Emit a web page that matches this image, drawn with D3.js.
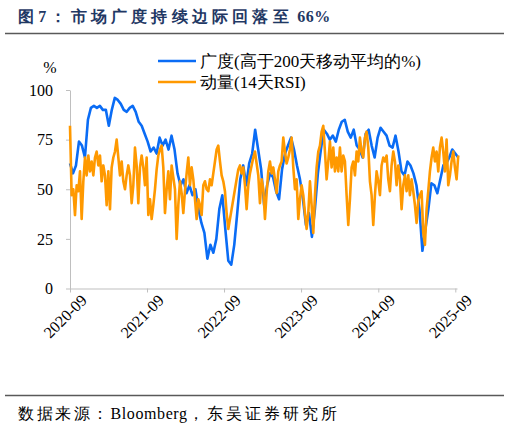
<!DOCTYPE html>
<html>
<head>
<meta charset="utf-8">
<script src="https://cdn.jsdelivr.net/npm/d3@7"></script>
<style>
  body { margin: 0; background: #fff; }
</style>
</head>
<body>
<script>
// data (two series, evenly spaced in time)
var startDate = new Date(2020, 8, 1);
var endDate = new Date(2025, 8, 15);

var breadth = [63,58,62,74,72,66,85,91,92,91,92,90,90,82,90,96,95,93,90,89,
  91,92,89,84,82,78,74,69,71,68,76,72,75,70,77,70,58,52,55,48,
  52,47,50,40,33,28,15,22,18,25,40,47,30,14,12,22,38,55,62,52,
  63,68,80,70,60,42,52,58,56,49,45,60,68,72,76,70,62,55,45,32,
  38,26,40,58,70,80,78,75,77,74,80,84,85,79,76,80,72,70,66,78,
  80,72,66,76,81,79,77,72,71,77,69,59,57,64,62,58,52,40,19,30,
  40,53,52,48,55,62,63,66,70,68,66];

var momentum = [82,47,50,37,52,49,59,35,54,66,57,67,59,64,57,66,69,62,67,54,
  62,57,42,59,40,61,66,69,75,66,57,64,54,50,57,62,57,43,52,71,
  62,43,61,67,61,52,66,37,
  45,35,42,50,60,67,70,72,61,38,50,59,45,62,56,50,25,42,54,48,
  38,49,58,66,52,61,55,45,35,45,42,37,52,54,50,49,55,52,58,64,
  70,72,64,57,54,49,38,30,
  35,40,45,50,55,60,62,58,61,52,40,52,58,62,66,69,63,57,43,55,
  50,35,48,59,64,58,61,55,48,59,62,64,76,69,63,66,70,76,61,50,
  55,35,45,52,47,38,30,38,
  54,42,28,47,61,69,72,79,82,69,55,64,74,61,71,59,66,59,71,59,
  67,64,47,32,45,61,64,57,69,64,76,69,66,76,79,71,54,47,32,47,
  59,54,47,62,66,64,67,55,
  49,62,69,64,52,62,55,40,52,57,49,57,47,55,49,42,33,44,47,49,
  28,22,40,49,59,66,71,64,69,59,71,76,69,59,75,52,57,64,69,61,
  55,67];

var yTicks = [0, 25, 50, 75, 100];
var xTickYears = [2020, 2021, 2022, 2023, 2024, 2025];

var seriesNames = ["广度(高于200天移动平均的%)", "动量(14天RSI)"];
var seriesColors = ["#0a6cf5", "#ff9900"];

var serif = "'Liberation Serif', 'Times New Roman', serif";

var width = 510, height = 429;

var svg = d3.select("body").append("svg")
    .attr("width", width)
    .attr("height", height)
    .style("font-family", serif);

// title and rules
var title = svg.append("text")
    .attr("x", 18).attr("y", 22)
    .attr("fill", "#1f3864")
    .attr("font-size", 16)
    .attr("font-weight", "bold")
    .style("font-family", serif);
title.append("tspan").attr("letter-spacing", 4.2).text("图7：市场广度持续边际回落至");
title.append("tspan").attr("letter-spacing", 0.5).text(" 66%");

svg.append("line")
    .attr("x1", 5).attr("x2", 504).attr("y1", 33.5).attr("y2", 33.5)
    .attr("stroke", "#595959").attr("stroke-width", 1.5);

svg.append("line")
    .attr("x1", 5).attr("x2", 504).attr("y1", 395.5).attr("y2", 395.5)
    .attr("stroke", "#595959").attr("stroke-width", 1.5);

var source = svg.append("text")
    .attr("x", 18).attr("y", 419)
    .attr("fill", "#000")
    .attr("font-size", 16)
    .style("font-family", serif);
source.append("tspan").attr("letter-spacing", 2.5).text("数据来源：");
source.append("tspan").attr("letter-spacing", 0.6).text("Bloomberg");
source.append("tspan").attr("letter-spacing", 3).text("，东吴证券研究所");

// scales
var x = d3.scaleTime()
    .domain([new Date(2020, 8, 1), new Date(2025, 8, 1)])
    .range([70, 455.3]);

var y = d3.scaleLinear()
    .domain([0, 100])
    .range([288.5, 90]);

function withDates(values) {
  var t = d3.scaleLinear().domain([0, values.length - 1])
      .range([startDate.getTime(), endDate.getTime()]);
  return values.map(function(v, i) { return {date: new Date(t(i)), value: v}; });
}

// axes
var xAxis = svg.append("g")
    .attr("transform", "translate(0,288.5)")
    .call(d3.axisBottom(x)
      .tickValues(xTickYears.map(function(yr) { return new Date(yr, 8, 1); }))
      .tickFormat(d3.timeFormat("%Y-%m"))
      .tickSize(4)
      .tickSizeOuter(0));

xAxis.attr("font-family", null);
xAxis.select(".domain").attr("stroke", "#bfbfbf").attr("d", "M70,0.5H457.5");
xAxis.selectAll(".tick line").attr("stroke", "#bfbfbf");
xAxis.selectAll(".tick text")
    .attr("font-size", 16)
    .attr("fill", "#000")
    .style("font-family", serif)
    .attr("text-anchor", "end")
    .attr("dx", "0.2em")
    .attr("dy", "0.9em")
    .attr("transform", "rotate(-45)");

var yAxis = svg.append("g")
    .attr("transform", "translate(70,0)")
    .call(d3.axisLeft(y)
      .tickValues(yTicks)
      .tickSize(4)
      .tickPadding(13)
      .tickSizeOuter(0));

yAxis.attr("font-family", null);
yAxis.select(".domain").attr("stroke", "#bfbfbf");
yAxis.selectAll(".tick line").attr("stroke", "#bfbfbf");
yAxis.selectAll(".tick text")
    .attr("font-size", 16)
    .attr("fill", "#000")
    .style("font-family", serif);

svg.append("text")
    .attr("x", 50).attr("y", 73)
    .attr("text-anchor", "middle")
    .attr("font-size", 16)
    .style("font-family", serif)
    .text("%");

// lines
var line = d3.line()
    .x(function(d) { return x(d.date); })
    .y(function(d) { return y(d.value); });

[breadth, momentum].forEach(function(values, i) {
  svg.append("path")
      .datum(withDates(values))
      .attr("fill", "none")
      .attr("stroke", seriesColors[i])
      .attr("stroke-width", 2.6)
      .attr("stroke-linejoin", "round")
      .attr("d", line);
});

// legend
var legend = svg.selectAll("g.legend")
    .data(seriesNames)
    .enter()
    .append("g")
    .attr("class", "legend")
    .attr("transform", function(d, i) { return "translate(158," + (61 + i * 21) + ")"; });

legend.append("line")
    .attr("x1", 0).attr("x2", 38)
    .attr("stroke", function(d, i) { return seriesColors[i]; })
    .attr("stroke-width", 2.6);

legend.append("text")
    .attr("x", 42).attr("y", 6)
    .attr("font-size", 17)
    .attr("fill", "#000")
    .style("font-family", serif)
    .text(function(d) { return d; });
</script>
</body>
</html>
